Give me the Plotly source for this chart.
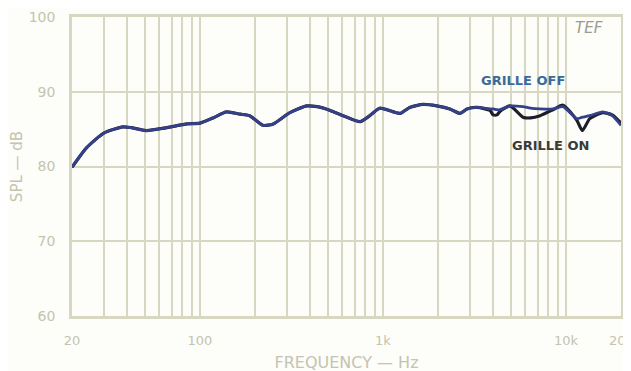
import plotly.graph_objects as go

# Frequency points (Hz)
freq = [20, 24, 30, 38, 42, 51, 66, 85, 100, 118, 140, 166, 187, 221, 252, 310, 384, 437,
        515, 606, 750, 848, 962, 1240, 1400, 1660, 1970, 2320, 2640, 2880, 3270, 3850,
        4000, 4200, 4370, 4950, 5820, 6400, 7230, 8500, 9640, 11460, 12300, 13500,
        15900, 17900, 20000]

# Grille off (blue)
spl_off = [79.9, 82.5, 84.5, 85.3, 85.2, 84.8, 85.2, 85.7, 85.8, 86.5, 87.3, 87.0, 86.8,
           85.5, 85.7, 87.2, 88.1, 88.0, 87.5, 86.8, 86.0, 86.8, 87.8, 87.1, 87.9, 88.3,
           88.1, 87.7, 87.1, 87.7, 87.9, 87.7, 87.7, 87.6, 87.6, 88.1, 88.0, 87.8, 87.7,
           87.7, 88.0, 86.4, 86.6, 86.8, 87.3, 86.8, 85.5]

# Grille on (black)
spl_on = [79.9, 82.5, 84.5, 85.3, 85.2, 84.8, 85.2, 85.7, 85.8, 86.5, 87.3, 87.0, 86.8,
          85.5, 85.7, 87.2, 88.1, 88.0, 87.5, 86.8, 86.0, 86.8, 87.8, 87.1, 87.9, 88.3,
          88.1, 87.7, 87.1, 87.7, 87.9, 87.5, 86.9, 86.9, 87.4, 88.1, 86.6, 86.5, 86.8,
          87.6, 88.2, 86.2, 84.8, 86.4, 87.2, 86.9, 85.8]

# Axis grid positions and labels
x_grid = [20, 30, 40, 50, 60, 70, 80, 90, 100, 200, 300, 400, 500, 600, 700, 800, 900,
          1000, 2000, 3000, 4000, 5000, 6000, 7000, 8000, 9000, 10000, 20000]
x_labels = ["20", "", "", "", "", "", "", "", "100", "", "", "", "", "", "", "", "",
            "1k", "", "", "", "", "", "", "", "", "10k", "20k"]
y_ticks = [60, 70, 80, 90, 100]

grid_col = "#d8d8c2"
text_col = "#c4c4b0"
font_fam = "DejaVu Sans"

fig = go.Figure()
fig.add_trace(go.Scatter(x=freq, y=spl_on, mode="lines", name="GRILLE ON",
                         line=dict(color="#1e1e2a", width=3.2, shape="spline", smoothing=0.6)))
fig.add_trace(go.Scatter(x=freq, y=spl_off, mode="lines", name="GRILLE OFF",
                         line=dict(color="#34408a", width=2.8, shape="spline", smoothing=0.6)))

fig.update_layout(
    width=631, height=371,
    margin=dict(l=64, r=18, t=9, b=63, autoexpand=False),
    paper_bgcolor="#fdfdf9", plot_bgcolor="#fdfdf9",
    showlegend=False,
    font=dict(family=font_fam, color=text_col, size=13),
)
fig.update_xaxes(
    type="log", range=[1.30103, 4.30103], automargin=False,
    tickvals=x_grid, ticktext=x_labels,
    ticks="outside", ticklen=11, tickcolor="rgba(0,0,0,0)",
    showgrid=True, gridcolor=grid_col, gridwidth=1.6,
    showline=True, mirror=True, linecolor=grid_col, linewidth=2.5,
    zeroline=False,
    title=dict(text="FREQUENCY — Hz", font=dict(size=16, color=text_col), standoff=10),
    tickfont=dict(size=13, color=text_col),
)
fig.update_yaxes(
    range=[60, 100], tickvals=y_ticks, automargin=False,
    ticks="outside", ticklen=11, tickcolor="rgba(0,0,0,0)",
    showgrid=True, gridcolor=grid_col, gridwidth=1.6,
    showline=True, mirror=True, linecolor=grid_col, linewidth=2.5,
    zeroline=False,
    title=dict(text="SPL — dB", font=dict(size=15, color=text_col), standoff=13),
    tickfont=dict(size=14, color=text_col),
)

fig.add_annotation(x=0.942, y=0.963, xref="paper", yref="paper", text="<i>TEF</i>",
                   xanchor="center", yanchor="middle",
                   showarrow=False, font=dict(size=15, color="#9a9a90", family=font_fam))
fig.add_annotation(x=0.821, y=0.786, xref="paper", yref="paper", text="<b>GRILLE OFF</b>",
                   xanchor="center", yanchor="middle",
                   showarrow=False, font=dict(size=13, color="#3b6a98", family=font_fam))
fig.add_annotation(x=0.871, y=0.569, xref="paper", yref="paper", text="<b>GRILLE ON</b>",
                   xanchor="center", yanchor="middle",
                   showarrow=False, font=dict(size=13, color="#3a3a36", family=font_fam))

fig.add_shape(type="line", xref="paper", yref="paper", x0=-0.13, x1=1.05, y0=1.053, y1=1.05,
              line=dict(color="#6a6a66", width=2))

fig.write_html("out.html")
